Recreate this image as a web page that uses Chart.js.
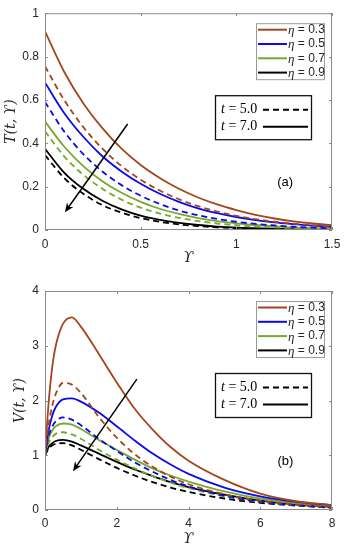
<!DOCTYPE html>
<html>
<head>
<meta charset="utf-8">
<script src="https://cdn.jsdelivr.net/npm/chart.js@4.4.1/dist/chart.umd.min.js"></script>
<style>
html, body { margin: 0; padding: 0; background: #fff; }
#wrap { position: relative; width: 348px; height: 550px; }
.panel { position: absolute; left: 0; width: 348px; height: 275px; }
</style>
</head>
<body>
<div id="wrap">
    <div class="panel" style="top:0"><canvas id="chartA" width="348" height="275"></canvas></div>
    <div class="panel" style="top:275px"><canvas id="chartB" width="348" height="275"></canvas></div>
</div>
<script>
// --- Data ---
const etaValues = ["0.3", "0.5", "0.7", "0.9"];
const timeValues = ["5.0", "7.0"];

// panel (a): temperature profiles
const xA = [0, 0.1, 0.2, 0.3, 0.4, 0.5, 0.6, 0.7, 0.8, 0.9, 1.0, 1.1, 1.2, 1.3, 1.4, 1.5];
const tempEta03t7 = [0.916, 0.73, 0.585, 0.47, 0.375, 0.30, 0.24, 0.19, 0.15, 0.118, 0.092, 0.07, 0.053, 0.04, 0.03, 0.022];
const tempEta03t5 = [0.755, 0.60, 0.475, 0.375, 0.295, 0.232, 0.182, 0.142, 0.11, 0.085, 0.065, 0.05, 0.038, 0.029, 0.022, 0.016];
const tempEta05t7 = [0.68, 0.54, 0.43, 0.34, 0.27, 0.213, 0.167, 0.13, 0.10, 0.078, 0.06, 0.046, 0.035, 0.027, 0.02, 0.015];
const tempEta05t5 = [0.59, 0.455, 0.35, 0.27, 0.207, 0.158, 0.12, 0.09, 0.068, 0.051, 0.038, 0.028, 0.021, 0.015, 0.011, 0.008];
const tempEta07t7 = [0.50, 0.385, 0.295, 0.225, 0.172, 0.13, 0.098, 0.074, 0.055, 0.041, 0.031, 0.023, 0.017, 0.012, 0.009, 0.007];
const tempEta07t5 = [0.455, 0.34, 0.255, 0.19, 0.14, 0.103, 0.076, 0.056, 0.041, 0.03, 0.022, 0.016, 0.012, 0.009, 0.006, 0.005];
const tempEta09t7 = [0.375, 0.265, 0.19, 0.135, 0.095, 0.066, 0.047, 0.033, 0.023, 0.016, 0.011, 0.008, 0.006, 0.004, 0.003, 0.002];
const tempEta09t5 = [0.345, 0.24, 0.167, 0.115, 0.08, 0.055, 0.038, 0.026, 0.018, 0.012, 0.008, 0.006, 0.004, 0.003, 0.002, 0.001];

// panel (b): velocity profiles
const xB = [0, 0.1, 0.2, 0.3, 0.5, 0.75, 1, 1.5, 2, 2.5, 3, 3.5, 4, 5, 6, 7, 8];
const velEta03t7 = [1, 1.95, 2.6, 3.0, 3.4, 3.52, 3.35, 2.85, 2.33, 1.85, 1.47, 1.15, 0.9, 0.55, 0.3, 0.16, 0.09];
const velEta03t5 = [1, 1.55, 1.9, 2.12, 2.32, 2.29, 2.14, 1.7, 1.32, 1.02, 0.79, 0.61, 0.47, 0.29, 0.17, 0.1, 0.06];
const velEta05t7 = [1, 1.45, 1.72, 1.88, 2.02, 2.04, 1.98, 1.78, 1.53, 1.27, 1.03, 0.83, 0.66, 0.41, 0.25, 0.15, 0.09];
const velEta05t5 = [1, 1.35, 1.52, 1.62, 1.69, 1.65, 1.55, 1.3, 1.08, 0.87, 0.7, 0.55, 0.43, 0.26, 0.15, 0.09, 0.05];
const velEta07t7 = [1, 1.3, 1.45, 1.53, 1.58, 1.56, 1.48, 1.28, 1.1, 0.92, 0.76, 0.63, 0.52, 0.34, 0.21, 0.12, 0.07];
const velEta07t5 = [1, 1.22, 1.33, 1.39, 1.42, 1.38, 1.3, 1.1, 0.92, 0.76, 0.62, 0.5, 0.4, 0.25, 0.15, 0.09, 0.05];
const velEta09t7 = [1, 1.15, 1.22, 1.26, 1.28, 1.25, 1.18, 1.03, 0.88, 0.74, 0.62, 0.51, 0.42, 0.28, 0.17, 0.1, 0.06];
const velEta09t5 = [1, 1.12, 1.18, 1.21, 1.22, 1.18, 1.1, 0.93, 0.77, 0.63, 0.51, 0.41, 0.33, 0.21, 0.13, 0.08, 0.04];

// tick values
const xTicksA = [0, 0.5, 1, 1.5];
const yTicksA = [0, 0.2, 0.4, 0.6, 0.8, 1];
const xTicksB = [0, 2, 4, 6, 8];
const yTicksB = [0, 1, 2, 3, 4];

// arrow annotations (data coordinates: tail, head)
const arrowAX = [0.432, 0.104];
const arrowAY = [0.489, 0.082];
const arrowBX = [2.56, 0.78];
const arrowBY = [2.39, 0.71];

// --- Styles ---
const etaColors = ["rgb(164, 70, 28)", "rgb(10, 10, 235)", "rgb(119, 168, 48)", "rgb(0, 0, 0)"];
const DASH = [6, 4];
const frameColor = "#8a8a8a";
const textColor = "#262626";
const sansFont = "'Liberation Sans', Arial, sans-serif";
const serifFont = "'Liberation Serif', 'Times New Roman', serif";
const mathFont = "'DejaVu Serif', serif";

function toPoints(xs, ys) {
    return xs.map((x, i) => ({ x: x, y: ys[i] }));
}

function makeDatasets(xs, solids, dashed) {
    const sets = [];
    for (let i = 0; i < solids.length; i++) {
        sets.push({
            label: "eta " + etaValues[i] + " t=7",
            data: toPoints(xs, solids[i]),
            borderColor: etaColors[i],
            borderWidth: 1.8,
            pointRadius: 0,
            cubicInterpolationMode: "monotone",
            fill: false,
        });
        sets.push({
            label: "eta " + etaValues[i] + " t=5",
            data: toPoints(xs, dashed[i]),
            borderColor: etaColors[i],
            borderWidth: 1.8,
            borderDash: DASH,
            pointRadius: 0,
            cubicInterpolationMode: "monotone",
            fill: false,
        });
    }
    return sets;
}

// --- Overlay plugin: frame, inward ticks, arrow, legends, panel tag ---
function overlayPlugin(cfg) {
    return {
        id: "overlay",
        afterDatasetsDraw(chart) {
            const ctx = chart.ctx;
            const a = chart.chartArea;
            const xs = chart.scales.x;
            const ys = chart.scales.y;
            ctx.save();

            // frame
            ctx.strokeStyle = frameColor;
            ctx.lineWidth = 1;
            ctx.strokeRect(a.left + 0.5, a.top + 0.5, a.right - a.left - 1, a.bottom - a.top - 1);

            // inward ticks on all four sides
            ctx.beginPath();
            cfg.xTicks.forEach((v) => {
                const px = Math.round(xs.getPixelForValue(v)) + 0.5;
                ctx.moveTo(px, a.bottom);
                ctx.lineTo(px, a.bottom - 3);
                ctx.moveTo(px, a.top);
                ctx.lineTo(px, a.top + 3);
            });
            cfg.yTicks.forEach((v) => {
                const py = Math.round(ys.getPixelForValue(v)) + 0.5;
                ctx.moveTo(a.left, py);
                ctx.lineTo(a.left + 3, py);
                ctx.moveTo(a.right, py);
                ctx.lineTo(a.right - 3, py);
            });
            ctx.stroke();

            // arrow
            const x0 = xs.getPixelForValue(cfg.arrowX[0]);
            const y0 = ys.getPixelForValue(cfg.arrowY[0]);
            const x1 = xs.getPixelForValue(cfg.arrowX[1]);
            const y1 = ys.getPixelForValue(cfg.arrowY[1]);
            const ang = Math.atan2(y1 - y0, x1 - x0);
            ctx.strokeStyle = "#000";
            ctx.fillStyle = "#000";
            ctx.lineWidth = 1.5;
            ctx.beginPath();
            ctx.moveTo(x0, y0);
            ctx.lineTo(x1 - 4 * Math.cos(ang), y1 - 4 * Math.sin(ang));
            ctx.stroke();
            ctx.beginPath();
            ctx.moveTo(x1, y1);
            ctx.lineTo(x1 - 10 * Math.cos(ang - 0.4), y1 - 10 * Math.sin(ang - 0.4));
            ctx.lineTo(x1 - 6.5 * Math.cos(ang), y1 - 6.5 * Math.sin(ang));
            ctx.lineTo(x1 - 10 * Math.cos(ang + 0.4), y1 - 10 * Math.sin(ang + 0.4));
            ctx.closePath();
            ctx.fill();

            // panel tag
            ctx.fillStyle = "#000";
            ctx.font = "13px " + sansFont;
            ctx.textAlign = "center";
            ctx.textBaseline = "middle";
            ctx.fillText(cfg.tag, xs.getPixelForValue(cfg.tagX), ys.getPixelForValue(cfg.tagY));

            // legend 1 (eta)
            const l1w = 69, l1h = 57;
            const l1x = a.right - 7 - l1w;
            const l1y = a.top + 10;
            ctx.fillStyle = "#fff";
            ctx.fillRect(l1x, l1y, l1w, l1h);
            ctx.strokeStyle = "#9a9a9a";
            ctx.lineWidth = 1;
            ctx.strokeRect(l1x + 0.5, l1y + 0.5, l1w - 1, l1h - 1);
            etaValues.forEach((v, i) => {
                const ry = l1y + 6.5 + i * 14.3;
                ctx.strokeStyle = etaColors[i];
                ctx.lineWidth = 2;
                ctx.setLineDash([]);
                ctx.beginPath();
                ctx.moveTo(l1x + 2, ry);
                ctx.lineTo(l1x + 31, ry);
                ctx.stroke();
                ctx.fillStyle = textColor;
                ctx.textAlign = "left";
                ctx.textBaseline = "middle";
                ctx.font = "italic 13px " + serifFont;
                ctx.fillText("η", l1x + 32, ry + 1);
                const w = ctx.measureText("η").width;
                ctx.font = "12px " + sansFont;
                ctx.fillText(" = " + v, l1x + 32 + w, ry);
            });

            // legend 2 (time)
            const l2w = 97, l2h = 45;
            const l2x = a.left + 170;
            const l2y = a.top + 82;
            ctx.fillStyle = "#fff";
            ctx.fillRect(l2x, l2y, l2w, l2h);
            ctx.strokeStyle = "#111";
            ctx.lineWidth = 1.3;
            ctx.strokeRect(l2x + 0.5, l2y + 0.5, l2w - 1, l2h - 1);
            timeValues.forEach((v, i) => {
                const ry = l2y + 14.5 + i * 17;
                ctx.fillStyle = "#000";
                ctx.textAlign = "left";
                ctx.textBaseline = "middle";
                ctx.font = "italic 14px " + serifFont;
                ctx.fillText("t", l2x + 6, ry);
                const w = ctx.measureText("t").width;
                ctx.font = "14px " + serifFont;
                ctx.fillText(" = " + v, l2x + 6 + w, ry);
                ctx.strokeStyle = "#000";
                ctx.lineWidth = 2;
                ctx.setLineDash(i === 0 ? [6, 4] : []);
                ctx.beginPath();
                ctx.moveTo(l2x + 48, ry);
                ctx.lineTo(l2x + 93, ry);
                ctx.stroke();
                ctx.setLineDash([]);
            });

            ctx.restore();
        },
    };
}

function buildChart(canvasId, cfg) {
    return new Chart(document.getElementById(canvasId), {
        type: "line",
        data: { datasets: makeDatasets(cfg.xs, cfg.solids, cfg.dashed) },
        options: {
            responsive: false,
            animation: false,
            devicePixelRatio: 1,
            layout: { padding: { left: 0, right: 16, top: cfg.padTop, bottom: 0 } },
            plugins: { legend: { display: false }, tooltip: { enabled: false } },
            scales: {
                x: {
                    type: "linear",
                    min: cfg.xTicks[0],
                    max: cfg.xTicks[cfg.xTicks.length - 1],
                    grid: { display: false, drawTicks: false },
                    border: { display: false },
                    afterBuildTicks: (s) => { s.ticks = cfg.xTicks.map((v) => ({ value: v })); },
                    afterFit: (s) => { s.height = cfg.xAxisHeight; },
                    ticks: {
                        color: textColor,
                        font: { family: sansFont, size: 12 },
                        padding: cfg.xTickPad,
                        maxRotation: 0,
                        callback: (v) => String(v),
                    },
                    title: {
                        display: true,
                        text: "ϒ",
                        color: textColor,
                        font: { family: mathFont, size: 15, style: "italic" },
                        padding: { top: 0, bottom: cfg.xTitlePad },
                    },
                },
                y: {
                    type: "linear",
                    min: cfg.yTicks[0],
                    max: cfg.yTicks[cfg.yTicks.length - 1],
                    grid: { display: false, drawTicks: false },
                    border: { display: false },
                    afterBuildTicks: (s) => { s.ticks = cfg.yTicks.map((v) => ({ value: v })); },
                    afterFit: (s) => { s.width = 45; },
                    ticks: {
                        color: textColor,
                        font: { family: sansFont, size: 12 },
                        padding: 6,
                        callback: (v) => String(v),
                    },
                    title: {
                        display: true,
                        text: cfg.yTitle,
                        color: textColor,
                        font: { family: mathFont, size: 14, style: "italic" },
                        padding: { top: cfg.yTitlePad, bottom: 0 },
                    },
                },
            },
        },
        plugins: [overlayPlugin(cfg)],
    });
}

buildChart("chartA", {
    xs: xA,
    solids: [tempEta03t7, tempEta05t7, tempEta07t7, tempEta09t7],
    dashed: [tempEta03t5, tempEta05t5, tempEta07t5, tempEta09t5],
    xTicks: xTicksA,
    yTicks: yTicksA,
    padTop: 11,
    xAxisHeight: 45,
    xTickPad: 7,
    xTitlePad: 8,
    yTitle: "Τ(t, ϒ)",
    yTitlePad: 3,
    arrowX: arrowAX,
    arrowY: arrowAY,
    tag: "(a)",
    tagX: 1.255,
    tagY: 0.22,
});

buildChart("chartB", {
    xs: xB,
    solids: [velEta03t7, velEta05t7, velEta07t7, velEta09t7],
    dashed: [velEta03t5, velEta05t5, velEta07t5, velEta09t5],
    xTicks: xTicksB,
    yTicks: yTicksB,
    padTop: 16,
    xAxisHeight: 40,
    xTickPad: 6,
    xTitlePad: 2,
    yTitle: "V(t, ϒ)",
    yTitlePad: 12,
    arrowX: arrowBX,
    arrowY: arrowBY,
    tag: "(b)",
    tagX: 6.7,
    tagY: 0.88,
});
</script>
</body>
</html>
